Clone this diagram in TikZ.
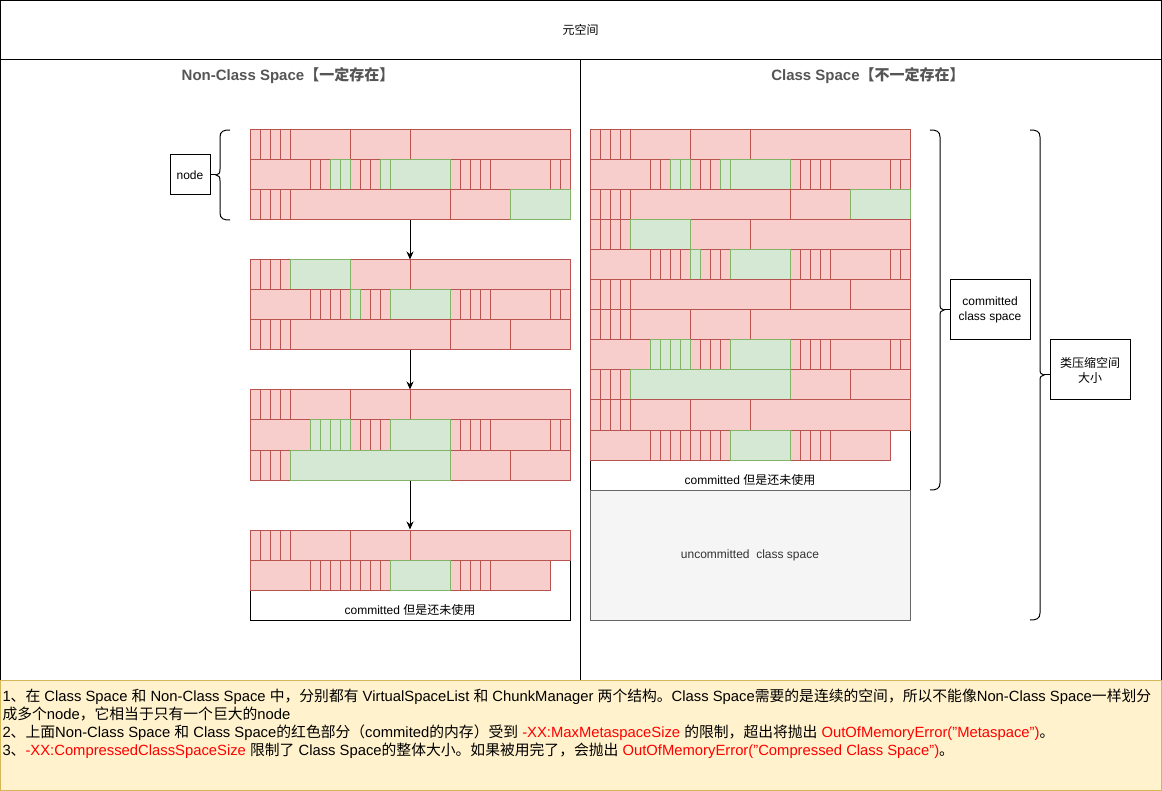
\documentclass[tikz,border=0pt]{standalone}
\usepackage{fontspec}
\setmainfont{Liberation Sans}
\newfontfamily\cjkfont{Noto Sans CJK SC}
\newcommand\zh[1]{{\cjkfont #1}}
\usetikzlibrary{arrows.meta}
\definecolor{redfill}{HTML}{F8CECC}
\definecolor{redline}{HTML}{B85450}
\definecolor{greenfill}{HTML}{D5E8D4}
\definecolor{greenline}{HTML}{82B366}
\definecolor{notefill}{HTML}{FFF2CC}
\definecolor{noteline}{HTML}{D6B656}
\definecolor{greyfill}{HTML}{F5F5F5}
\definecolor{greyline}{HTML}{666666}
\definecolor{titlegrey}{HTML}{555555}
\definecolor{notered}{HTML}{FF0000}
\definecolor{darktext}{HTML}{333333}
\tikzset{
  redcell/.style={fill=redfill,draw=redline},
  greencell/.style={fill=greenfill,draw=greenline},
  blk/.style={minimum width=320pt,minimum height=90pt,inner sep=0pt,draw=none},
  lbl/.style={font=\fontsize{12}{14}\selectfont,align=center,inner sep=0pt},
  labelbox/.style={draw=black,fill=white,inner sep=0pt,align=center,font=\fontsize{12}{15}\selectfont},
  flow/.style={-{Stealth[length=8pt,width=7pt]}},
  bracepath/.style={draw=black},
  titletext/.style={font=\bfseries\fontsize{15}{17}\selectfont,text=titlegrey},
}
\def\patA{0/10,10/20,20/30,30/40,40/100,100/160,160/320}
\def\patB{0/60,60/70,70/80,80/90,90/100,100/110,110/120,120/130,130/140,140/200,200/210,210/220,220/230,230/240,240/300,300/310,310/320}
\def\patBt{0/60,60/70,70/80,80/90,90/100,100/110,110/120,120/130,130/140,140/200,200/210,210/220,220/230,230/240,240/300}
\def\patC{0/10,10/20,20/30,30/40,40/200,200/260,260/320}
\newcommand\cellrow[3]{\foreach \a/\b in #3 {\draw[redcell] ({#1+\a},{#2}) rectangle ({#1+\b},{#2+30});}}
\newcommand\greenrow[3]{\foreach \a/\b in {#3} {\draw[greencell] ({#1+\a},{#2}) rectangle ({#1+\b},{#2+30});}}
\begin{document}
\begin{tikzpicture}[x=1pt,y=-1pt,line width=1pt]
\useasboundingbox (0,0) rectangle (1162,791);
% frame
\draw (0.5,0.5) rectangle (1161,60);
\node[lbl] (meta) at (580.5,30) {\zh{元空间}};
\draw (0.5,60) rectangle (580,680);
\draw (580,60) rectangle (1161,680);
\node[titletext] (nctitle) at (288,76) {Non-Class Space\zh{【一定存在】}};
\node[titletext] (ctitle) at (868,76) {Class Space\zh{【不一定存在】}};
% ---------- Non-Class Space ----------
% block 1
\cellrow{250}{130}{\patA}
\cellrow{250}{160}{\patB}
\greenrow{250}{160}{80/90,90/100,130/140,140/200}
\cellrow{250}{190}{\patC}
\greenrow{250}{190}{260/320}
% block 2
\cellrow{250}{260}{\patA}
\greenrow{250}{260}{40/100}
\cellrow{250}{290}{\patB}
\greenrow{250}{290}{100/110,140/200}
\cellrow{250}{320}{\patC}
% block 3
\cellrow{250}{390}{\patA}
\cellrow{250}{420}{\patB}
\greenrow{250}{420}{60/70,70/80,80/90,90/100,140/200}
\cellrow{250}{450}{\patC}
\greenrow{250}{450}{40/200}
% block 4
\draw[fill=white] (250,530) rectangle (570,620);
\cellrow{250}{530}{\patA}
\cellrow{250}{560}{\patBt}
\greenrow{250}{560}{140/200}
\node[lbl] (ncfree) at (410,610) {committed \zh{但是还未使用}};
% block nodes and arrows
\node[blk] (n1) at (410,175) {};
\node[blk] (n2) at (410,305) {};
\node[blk] (n3) at (410,435) {};
\node[blk] (n4) at (410,575) {};
\draw[flow] (n1.south) -- (n2.north);
\draw[flow] (n2.south) -- (n3.north);
\draw[flow] (n3.south) -- (n4.north);
% node label and brace
\node[labelbox,minimum width=40pt,minimum height=40pt] (nodebox) at (190,175) {node};
\coordinate (lbtip) at (216,175);
\draw[bracepath] (230,130) .. controls (224,130) and (220,131) .. (220,137) -- (220,169)
  .. controls (220,173) and (219,175) .. (lbtip) .. controls (219,175) and (220,177) .. (220,181)
  -- (220,213) .. controls (220,219) and (224,220) .. (230,220);
\draw (nodebox.east) -- (lbtip);
% ---------- Class Space ----------
\draw[fill=white] (590,130) rectangle (910,490);
\cellrow{590}{130}{\patA}
\cellrow{590}{160}{\patB}
\greenrow{590}{160}{80/90,90/100,130/140,140/200}
\cellrow{590}{190}{\patC}
\greenrow{590}{190}{260/320}
\cellrow{590}{220}{\patA}
\greenrow{590}{220}{40/100}
\cellrow{590}{250}{\patB}
\greenrow{590}{250}{100/110,140/200}
\cellrow{590}{280}{\patC}
\cellrow{590}{310}{\patA}
\cellrow{590}{340}{\patB}
\greenrow{590}{340}{60/70,70/80,80/90,90/100,140/200}
\cellrow{590}{370}{\patC}
\greenrow{590}{370}{40/200}
\cellrow{590}{400}{\patA}
\cellrow{590}{430}{\patBt}
\greenrow{590}{430}{140/200}
\node[lbl] (cfree) at (750,480) {committed \zh{但是还未使用}};
\draw[fill=greyfill,draw=greyline] (590,490) rectangle (910,620);
\node[lbl,text=darktext] (uncommitted) at (750,555) {uncommitted\ \ class space};
% braces on the right
\node[labelbox,minimum width=80pt,minimum height=60pt] (ccs) at (990,310) {committed\\class space};
\coordinate (rbtip) at (944,310);
\draw[bracepath] (930,130) .. controls (936,130) and (940,131) .. (940,137) -- (940,304)
  .. controls (940,308) and (941,310) .. (rbtip) .. controls (941,310) and (940,312) .. (940,316)
  -- (940,483) .. controls (940,489) and (936,490) .. (930,490);
\draw (rbtip) -- (ccs.west);
\node[labelbox,minimum width=80pt,minimum height=60pt] (ccsize) at (1090,370) {\zh{类压缩空间}\\\zh{大小}};
\coordinate (bbtip) at (1044,375);
\draw[bracepath] (1030,130) .. controls (1036,130) and (1040,131) .. (1040,137) -- (1040,369)
  .. controls (1040,373) and (1041,375) .. (bbtip) .. controls (1041,375) and (1040,377) .. (1040,381)
  -- (1040,613) .. controls (1040,619) and (1036,620) .. (1030,620);
\draw (bbtip) -- (ccsize.west |- bbtip);
% ---------- notes ----------
\draw[fill=notefill,draw=noteline] (0.5,680) rectangle (1161,790);
\node[anchor=north west,inner sep=0pt,align=left,font=\fontsize{14.8}{18}\selectfont] (notes) at (2,688) {%
1\zh{、在} Class Space \zh{和} Non-Class Space \zh{中，分别都有} VirtualSpaceList \zh{和} ChunkManager \zh{两个结构。}Class Space\zh{需要的是连续的空间，所以不能像}Non-Class Space\zh{一样划分}\\
\zh{成多个}node\zh{，它相当于只有一个巨大的}node\\
2\zh{、上面}Non-Class Space \zh{和} Class Space\zh{的红色部分（}commited\zh{的内存）受到} \textcolor{notered}{-XX:MaxMetaspaceSize} \zh{的限制，超出将抛出} \textcolor{notered}{OutOfMemoryError("Metaspace")}\zh{。}\\
3\zh{、}\textcolor{notered}{-XX:CompressedClassSpaceSize} \zh{限制了} Class Space\zh{的整体大小。如果被用完了，会抛出} \textcolor{notered}{OutOfMemoryError("Compressed Class Space")}\zh{。}};
\end{tikzpicture}
\end{document}
